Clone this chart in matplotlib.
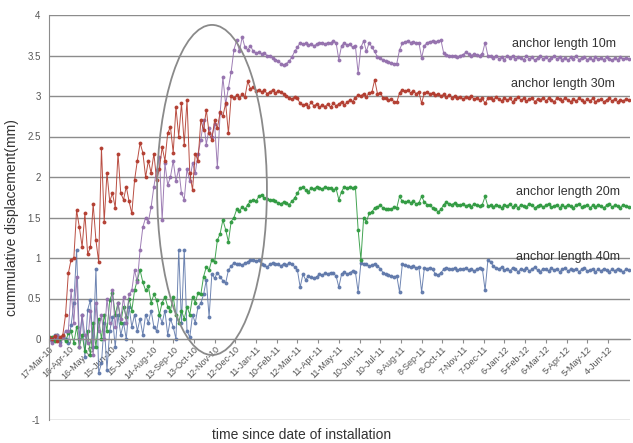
import numpy as np
import matplotlib
matplotlib.use('Agg')
import matplotlib.pyplot as plt
from matplotlib.patches import Ellipse

plt.rcParams['font.family'] = ['Liberation Sans', 'DejaVu Sans']

START = np.datetime64('2010-03-17')
STEP = 4  # days between readings

# anchor length 30m
disp_30 = [0.02, 0.0, 0.04, -0.03, 0.02, 0.05, 0.3, 0.81, 0.98, 1.0,
           1.59, 1.38, 1.14, 1.55, 1.05, 1.13, 1.67, 1.22, 0.95, 2.36,
           1.45, 2.05, 1.7, 1.8, 1.62, 2.29, 1.8, 1.72, 1.88, 1.7,
           1.55, 1.96, 2.2, 2.42, 2.3, 2.0, 2.2, 2.05, 2.29, 1.96,
           2.1, 2.37, 2.2, 2.54, 2.62, 2.3, 2.86, 2.5, 2.91, 2.4,
           2.95, 2.05, 1.84, 2.29, 2.2, 2.7, 2.58, 2.83, 2.54, 2.46,
           2.7, 2.6, 2.8, 2.75, 2.91, 2.54, 3.0, 2.97, 3.01, 2.98,
           3.02, 2.99, 3.18, 3.09, 3.11, 3.06, 3.08, 3.05, 3.07, 3.03,
           3.05, 3.07, 3.04, 3.06, 3.05, 3.03, 3.0, 2.98, 2.96, 2.99,
           2.97, 2.91, 2.89, 2.9, 2.87, 2.92, 2.88, 2.9, 2.86, 2.89,
           2.87, 2.9, 2.86, 2.91, 2.88, 2.9, 2.93, 2.89, 2.92, 2.95,
           2.93, 2.98, 3.01, 3.0, 3.03, 2.99, 3.04, 3.05, 3.2, 3.03,
           3.04, 2.98, 2.97, 2.95, 2.96, 2.93, 2.92, 3.04, 3.08, 3.06,
           3.07, 3.04, 3.06, 3.03, 3.05, 2.91, 3.04, 3.05, 3.02, 3.04,
           3.01, 3.03, 3.0, 3.02, 2.99, 3.01, 2.98, 3.0, 2.97, 2.99,
           2.96, 2.99, 2.97, 3.0, 2.96, 2.98, 2.95, 2.97, 2.91, 2.97,
           2.98, 2.95, 2.99, 2.96, 2.94, 2.98, 2.95, 2.97, 2.93, 2.96,
           2.99, 2.95, 2.97, 2.94, 2.96, 2.98, 2.93, 2.96, 2.95, 2.98,
           2.94, 2.97, 2.95, 2.93, 2.97, 2.96, 2.94, 2.98, 2.95, 2.93,
           2.96, 2.94, 2.97, 2.95, 2.92, 2.96, 2.94, 2.97, 2.93, 2.95,
           2.96, 2.93, 2.95, 2.97, 2.94, 2.96, 2.93, 2.95, 2.94, 2.96,
           2.95]

# anchor length 10m
disp_10 = [0.0, -0.05, 0.03, 0.05, -0.08, 0.02, 0.1, 0.1, 0.6, 0.2,
           0.77, -0.1, 0.3, 0.05, -0.05, 0.35, -0.2, 0.44, 0.1, 0.3,
           0.0, 0.5, 0.2, 0.6, 0.15, 0.45, 0.25, 0.52, 0.2, 0.55,
           0.6, 0.85, 0.7, 1.1, 1.38, 1.5, 1.45, 1.63, 1.88, 2.09,
           2.25, 1.47, 2.17, 1.9, 2.0, 2.2, 1.95, 2.1, 1.8, 1.72,
           2.1, 1.95, 2.17, 2.05, 2.29, 2.46, 2.7, 2.4, 2.6, 2.5,
           2.65, 2.12, 2.79, 3.23, 2.9, 3.1, 3.3, 3.57, 3.69, 3.55,
           3.73, 3.6, 3.57, 3.62, 3.55, 3.53, 3.54, 3.52, 3.53, 3.5,
           3.5, 3.47, 3.45, 3.43, 3.4, 3.38, 3.4, 3.43, 3.48, 3.55,
           3.6, 3.66, 3.64, 3.65, 3.63, 3.64, 3.62, 3.64, 3.65, 3.66,
           3.64, 3.66, 3.65, 3.68, 3.66, 3.45, 3.62, 3.66, 3.63, 3.64,
           3.6, 3.62, 3.28, 3.6, 3.68, 3.55, 3.66, 3.6, 3.55, 3.48,
           3.47, 3.44, 3.43, 3.42, 3.41, 3.4, 3.4, 3.57, 3.65, 3.67,
           3.68, 3.66, 3.67, 3.65, 3.66, 3.47, 3.62, 3.66, 3.67, 3.68,
           3.67, 3.68, 3.69, 3.53, 3.51, 3.5, 3.49, 3.5, 3.48, 3.5,
           3.51, 3.54, 3.52, 3.5, 3.52, 3.51, 3.5, 3.52, 3.66, 3.5,
           3.49, 3.47, 3.5, 3.46, 3.48, 3.45, 3.49, 3.47, 3.5, 3.46,
           3.48, 3.47, 3.45, 3.49, 3.46, 3.48, 3.44, 3.47, 3.49, 3.46,
           3.48, 3.45, 3.47, 3.49, 3.46, 3.48, 3.45, 3.47, 3.44, 3.48,
           3.46, 3.49, 3.45, 3.47, 3.48, 3.45, 3.47, 3.44, 3.48, 3.46,
           3.47, 3.45, 3.48, 3.46, 3.44, 3.47, 3.45, 3.48, 3.46, 3.47,
           3.46]

# anchor length 20m
disp_20 = [0.0, 0.03, -0.02, 0.05, 0.0, 0.04, -0.03, 0.07, 0.1, -0.05,
           0.15, -0.1, 0.05, -0.15, 0.1, -0.2, 0.2, -0.1, 0.25, 0.0,
           0.3, 0.1, 0.48, 0.57, 0.3, 0.45, 0.2, 0.4, 0.27, 0.5,
           0.35, 0.6, 0.73, 0.85, 0.7, 0.6, 0.65, 0.45, 0.55, 0.48,
           0.3, 0.45, 0.52, 0.4, 0.35, 0.52, 0.3, 0.2, 0.35, 0.25,
           0.4, 0.3, 0.52, 0.45, 0.57, 0.55, 0.77, 0.89, 0.85, 0.98,
           0.95, 1.22, 1.3, 1.47, 1.35, 1.2, 1.45, 1.5, 1.6, 1.58,
           1.63, 1.6, 1.66, 1.7, 1.72, 1.7, 1.76, 1.78, 1.74, 1.73,
           1.72, 1.71, 1.7, 1.68, 1.67, 1.69, 1.68, 1.66, 1.7, 1.74,
           1.8, 1.86, 1.88, 1.84, 1.82, 1.86, 1.85, 1.88, 1.87, 1.85,
           1.88, 1.86, 1.87, 1.84, 1.86, 1.72, 1.82, 1.88, 1.86, 1.88,
           1.86, 1.88, 1.35, 0.98, 1.5, 1.45, 1.55, 1.57, 1.62, 1.63,
           1.65, 1.62, 1.6, 1.61, 1.6, 1.63, 1.62, 1.76, 1.7, 1.69,
           1.7, 1.68, 1.7, 1.67, 1.68, 1.76, 1.69, 1.66, 1.65, 1.62,
           1.6, 1.57, 1.6, 1.66, 1.69, 1.67, 1.66, 1.68, 1.66, 1.65,
           1.67, 1.64, 1.66, 1.63, 1.67, 1.65, 1.64, 1.66, 1.76, 1.64,
           1.65, 1.63, 1.66, 1.64, 1.62, 1.66, 1.64, 1.67, 1.63, 1.65,
           1.62, 1.66, 1.64, 1.63, 1.67, 1.65, 1.62, 1.64, 1.66, 1.63,
           1.65, 1.67, 1.63, 1.64, 1.66, 1.62, 1.65, 1.63, 1.66, 1.64,
           1.62, 1.65, 1.67, 1.63, 1.64, 1.66, 1.62, 1.65, 1.63, 1.66,
           1.64, 1.62, 1.65, 1.67, 1.63, 1.65, 1.64, 1.62, 1.66, 1.64,
           1.63]

# anchor length 40m
disp_40 = [0.03, -0.02, 0.05, 0.0, -0.04, 0.02, 0.0, -0.05, 0.17, 0.44,
           1.1, 0.0, 0.3, -0.22, 0.36, 0.48, -0.1, 0.87, -0.42, -0.3,
           0.2, -0.38, 0.1, 0.27, -0.1, 0.3, 0.05, 0.2, 0.0, 0.4,
           0.15, 0.3, 0.1, 0.25, 0.05, 0.3, 0.2, 0.35, 0.15, 0.1,
           0.3, 0.2, 0.35, 0.05, 0.25, 0.15, 0.0, 1.1, 0.2, 1.1,
           0.1, 0.02, 0.3, 0.2, 0.4, 0.44, 0.55, 0.73, 0.27, 0.8,
           0.75, 0.82, 0.77, 0.72, 0.69, 0.85, 0.9, 0.94, 0.92, 0.93,
           0.91, 0.94, 0.95, 0.97, 0.98, 0.96, 0.97, 0.93, 0.91, 0.89,
           0.92, 0.94, 0.93, 0.92, 0.9, 0.93, 0.91, 0.94, 0.93, 0.89,
           0.85, 0.64, 0.8, 0.73, 0.78, 0.76, 0.75, 0.77, 0.8, 0.79,
           0.81, 0.8, 0.82, 0.81, 0.78, 0.64, 0.8, 0.83, 0.8, 0.82,
           0.84, 0.83, 0.58, 0.94, 0.93, 0.92, 0.9, 0.91, 0.93, 0.9,
           0.87, 0.82, 0.8, 0.79, 0.78, 0.77, 0.78, 0.58, 0.92, 0.91,
           0.9, 0.89, 0.9, 0.88, 0.89, 0.58, 0.88, 0.87, 0.88, 0.86,
           0.8, 0.79, 0.82, 0.86, 0.88, 0.87, 0.86, 0.88, 0.85, 0.87,
           0.86, 0.88, 0.85, 0.87, 0.84, 0.86, 0.88, 0.87, 0.6, 0.97,
           0.95, 0.9, 0.88, 0.86, 0.89, 0.85, 0.87, 0.84, 0.88, 0.86,
           0.83, 0.87, 0.85, 0.88, 0.84, 0.86, 0.89, 0.85, 0.83, 0.87,
           0.86, 0.84, 0.88, 0.85, 0.87, 0.83, 0.86, 0.88, 0.84, 0.86,
           0.85, 0.87, 0.83, 0.86, 0.88, 0.84, 0.85, 0.87, 0.83, 0.86,
           0.84, 0.87, 0.85, 0.83, 0.86, 0.84, 0.87, 0.85, 0.83, 0.86,
           0.85]

tick_labels = ['17-Mar-10', '16-Apr-10', '16-May-10', '15-Jun-10', '15-Jul-10',
               '14-Aug-10', '13-Sep-10', '13-Oct-10', '12-Nov-10', '12-Dec-10',
               '11-Jan-11', '10-Feb-11', '12-Mar-11', '11-Apr-11', '11-May-11',
               '10-Jun-11', '10-Jul-11', '9-Aug-11', '8-Sep-11', '8-Oct-11',
               '7-Nov-11', '7-Dec-11', '6-Jan-12', '5-Feb-12', '6-Mar-12',
               '5-Apr-12', '5-May-12', '4-Jun-12']

names = ['anchor length 10m', 'anchor length 30m', 'anchor length 20m', 'anchor length 40m']
colors = {'10': '#9470ad', '30': '#b23b2e', '20': '#2f9a40', '40': '#5f78aa'}

days = np.arange(len(disp_30)) * STEP
dates = START + days.astype('timedelta64[D]')

fig = plt.figure(figsize=(6.33, 4.43), dpi=100)
ax = fig.add_axes([49/633, 1 - 420/443, 581/633, 405/443])

# x axis crosses at zero; set before the tick labels so they keep their style
ax.spines['bottom'].set_position(('data', 0))
ax.spines['bottom'].set_color('#8c8c8c')
ax.spines['left'].set_color('#8c8c8c')
ax.spines['top'].set_visible(False)
ax.spines['right'].set_visible(False)

for key, vals in [('40', disp_40), ('20', disp_20), ('10', disp_10), ('30', disp_30)]:
    ax.plot(dates, vals, color=colors[key], lw=0.7, marker='o', ms=1.8,
            mec=colors[key], mfc=colors[key], alpha=0.9)

ax.set_ylim(-1, 4)
ax.set_xlim(START, START + np.timedelta64(842, 'D'))

yt = np.arange(-1, 4.01, 0.5)
ax.set_yticks(yt)
ax.set_yticklabels(['-1', '', '0', '0.5', '1', '1.5', '2', '2.5', '3', '3.5', '4'],
                   fontsize=7, color='#555555')
ax.yaxis.grid(True, color='#8c8c8c', lw=1.0)
ax.set_axisbelow(True)

xt = START + (np.arange(len(tick_labels)) * 30).astype('timedelta64[D]')
ax.set_xticks(xt)
ax.set_xticklabels(tick_labels, rotation=45, ha='right', rotation_mode='anchor',
                   fontsize=6.5, color='#555555')
ax.tick_params(axis='x', length=3, color='#8c8c8c', pad=1)
ax.tick_params(axis='y', length=0, pad=6)

# series names next to the lines
ax.text(0.797, 0.922, names[0], transform=ax.transAxes, fontsize=9, color='#333333')
ax.text(0.795, 0.823, names[1], transform=ax.transAxes, fontsize=9, color='#333333')
ax.text(0.803, 0.556, names[2], transform=ax.transAxes, fontsize=9, color='#333333')
ax.text(0.803, 0.396, names[3], transform=ax.transAxes, fontsize=9, color='#333333')

ax.add_patch(Ellipse((0.2806, 0.568), 0.189, 0.815, transform=ax.transAxes,
                     fill=False, ec='#8a8a8a', lw=1.3, zorder=5))

fig.text(0.0195, 0.51, 'cummulative displacement(mm)', rotation=90, ha='center',
         va='center', fontsize=10, color='#333333')
fig.text(0.477, 0.018, 'time since date of installation', ha='center', va='center',
         fontsize=10, color='#333333')

fig.savefig('out.png', dpi=100)
